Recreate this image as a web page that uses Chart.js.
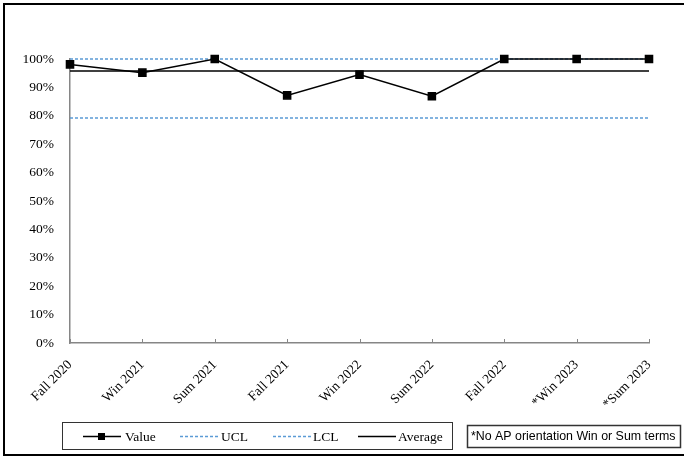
<!DOCTYPE html>
<html>
<head>
<meta charset="utf-8">
<script src="https://cdn.jsdelivr.net/npm/chart.js@4.4.0/dist/chart.umd.min.js"></script>
<style>
  html, body { margin: 0; padding: 0; background: #fff; }
  #wrap { width: 684px; height: 459px; position: relative; }
</style>
</head>
<body>
<div id="wrap"><canvas id="chart"></canvas></div>
<script>
// DATA
const terms = ["Fall 2020", "Win 2021", "Sum 2021", "Fall 2021", "Win 2022", "Sum 2022", "Fall 2022", "*Win 2023", "*Sum 2023"];
const values = [98.1, 95.2, 100, 87.2, 94.5, 86.9, 100, 100, 100];
const ucl = [100, 100, 100, 100, 100, 100, 100, 100, 100];
const lcl = [79.2, 79.2, 79.2, 79.2, 79.2, 79.2, 79.2, 79.2, 79.2];
const average = [95.8, 95.8, 95.8, 95.8, 95.8, 95.8, 95.8, 95.8, 95.8];
const yTicks = [0, 10, 20, 30, 40, 50, 60, 70, 80, 90, 100];
const noteText = "*No AP orientation Win or Sum terms";

const serif = "'Liberation Serif', 'Times New Roman', serif";
const blue = "#5b9bd5";
const axisGrey = "#868686";

// FRAME, INSIDE TICKS, LEGEND, NOTE
const extras = {
  id: "extras",
  afterDraw(chart) {
    const ctx = chart.ctx;
    const x = chart.scales.x;
    const area = chart.chartArea;
    ctx.save();

    // outer frame
    ctx.strokeStyle = "#000";
    ctx.lineWidth = 2;
    ctx.beginPath();
    ctx.moveTo(684, 4);
    ctx.lineTo(4, 4);
    ctx.lineTo(4, 455);
    ctx.lineTo(684, 455);
    ctx.stroke();

    // tick marks pointing up into the plot
    ctx.strokeStyle = axisGrey;
    ctx.lineWidth = 1;
    terms.forEach((t, i) => {
      const px = Math.round(x.getPixelForValue(i)) + 0.5;
      ctx.beginPath();
      ctx.moveTo(px, area.bottom);
      ctx.lineTo(px, area.bottom - 4);
      ctx.stroke();
    });

    // legend box
    ctx.strokeStyle = "#333";
    ctx.lineWidth = 1;
    ctx.strokeRect(62.5, 422.5, 390, 27);
    const ly = 436;
    const items = [
      { ds: 0, x0: 83, text: 125 },
      { ds: 1, x0: 180, text: 221 },
      { ds: 2, x0: 273, text: 313 },
      { ds: 3, x0: 358, text: 398 },
    ];
    ctx.font = "13.5px " + serif;
    ctx.textBaseline = "middle";
    ctx.fillStyle = "#000";
    items.forEach((it) => {
      const ds = chart.data.datasets[it.ds];
      ctx.strokeStyle = ds.borderColor;
      ctx.lineWidth = ds.borderWidth;
      ctx.setLineDash(ds.borderDash || []);
      ctx.beginPath();
      ctx.moveTo(it.x0, ly + 0.5);
      ctx.lineTo(it.x0 + 38, ly + 0.5);
      ctx.stroke();
      ctx.setLineDash([]);
      if (ds.pointRadius > 0) {
        ctx.fillStyle = "#000";
        ctx.fillRect(it.x0 + 15, ly - 3, 7, 7);
      }
      ctx.fillStyle = "#000";
      ctx.fillText(ds.label, it.text, ly + 1);
    });

    // note box
    ctx.strokeStyle = "#333";
    ctx.strokeRect(467.5, 425.5, 213, 22);
    ctx.font = "12.4px 'Liberation Sans', Arial, sans-serif";
    ctx.fillText(noteText, 471, 437);

    ctx.restore();
  },
};

new Chart(document.getElementById("chart"), {
  type: "line",
  data: {
    labels: terms,
    datasets: [
      {
        label: "Value",
        data: values,
        borderColor: "#000",
        backgroundColor: "#000",
        borderWidth: 1.5,
        pointStyle: "rect",
        pointRadius: 5,
        pointHoverRadius: 5,
        pointBackgroundColor: "#000",
        pointBorderColor: "#000",
        tension: 0,
      },
      {
        label: "UCL",
        data: ucl,
        borderColor: blue,
        borderWidth: 1.5,
        borderDash: [3, 2],
        pointRadius: 0,
      },
      {
        label: "LCL",
        data: lcl,
        borderColor: blue,
        borderWidth: 1.5,
        borderDash: [3, 2],
        pointRadius: 0,
      },
      {
        label: "Average",
        data: average,
        borderColor: "#000",
        borderWidth: 1.5,
        pointRadius: 0,
      },
    ],
  },
  options: {
    responsive: true,
    maintainAspectRatio: false,
    animation: false,
    clip: false,
    layout: { padding: { top: 59, right: 35, left: 0, bottom: 0 } },
    plugins: {
      legend: { display: false },
      tooltip: { enabled: false },
    },
    scales: {
      x: {
        offset: false,
        grid: { display: false },
        border: { display: true, color: axisGrey, width: 1.5 },
        ticks: {
          color: "#000",
          font: { family: serif, size: 13.5 },
          maxRotation: 45,
          minRotation: 45,
          autoSkip: false,
          padding: 6,
        },
        afterFit: (s) => { s.height = 116; },
      },
      y: {
        min: 0,
        max: 100,
        afterBuildTicks: (s) => { s.ticks = yTicks.map((v) => ({ value: v })); },
        grid: { display: false, drawTicks: false },
        border: { display: true, color: axisGrey, width: 1.5 },
        ticks: {
          color: "#000",
          font: { family: serif, size: 13.5 },
          padding: 16,
          callback: (v) => v + "%",
        },
        afterFit: (s) => { s.width = 70; },
      },
    },
  },
  plugins: [extras],
});
</script>
</body>
</html>
